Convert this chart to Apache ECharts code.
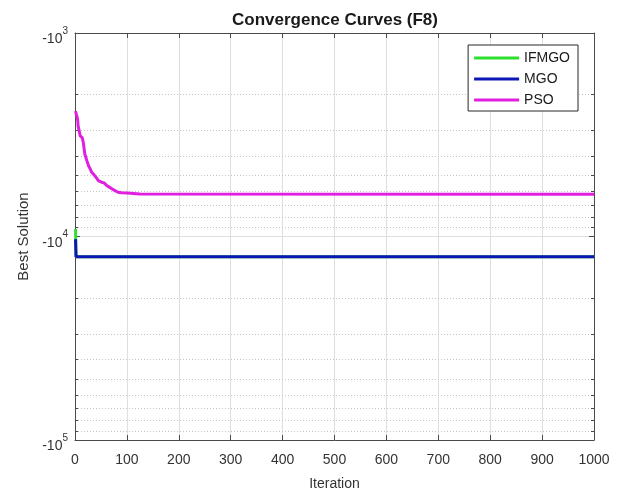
<!DOCTYPE html>
<html>
<head>
<meta charset="utf-8">
<script src="https://cdn.jsdelivr.net/npm/echarts@6/dist/echarts.min.js"></script>
<style>
  html, body { margin: 0; padding: 0; background: #ffffff; }
  #chart { width: 625px; height: 496px; }
</style>
</head>
<body>
<div id="chart"></div>
<script>
// Best-so-far fitness per iteration (negative values, drawn on a log magnitude axis)
const ifmgoIter = [1, 2, 1000];
const ifmgoBest = [-9200, -12569.5, -12569.5];

const mgoIter = [1, 2, 1000];
const mgoBest = [-10300, -12569.5, -12569.5];

const psoIter = [1, 3, 5, 6, 10, 14, 16, 19, 23, 26, 29, 32, 36, 39, 42, 45, 51, 56, 61, 66, 71, 77, 83, 90, 100, 125, 1000];
const psoBest = [-2420, -2420, -2650, -2860, -3200, -3270, -3450, -3940, -4250, -4490, -4640, -4830,
                 -4950, -5020, -5180, -5310, -5410, -5450, -5620, -5720, -5830, -5950, -6060, -6100,
                 -6120, -6190, -6200];

// Axis ticks
const xTicks = [0, 100, 200, 300, 400, 500, 600, 700, 800, 900, 1000];
const yDecades = [1e3, 1e4, 1e5];
const yMinor = [2e3, 3e3, 4e3, 5e3, 6e3, 7e3, 8e3, 9e3,
                2e4, 3e4, 4e4, 5e4, 6e4, 7e4, 8e4, 9e4];

const seriesNames = ['IFMGO', 'MGO', 'PSO'];
const seriesColors = ['#2ee02e', '#0c17b5', '#e01fe0'];

const toPoints = (xs, ys) => xs.map((x, i) => [x, Math.abs(ys[i])]);

const axisColor = '#4a4a4a';
const labelColor = '#333333';
const fontFam = '"Liberation Sans", Arial, sans-serif';

const chart = echarts.init(document.getElementById('chart'), null, { renderer: 'canvas' });

const decadeLabel = v => {
  const e = Math.round(Math.log10(v));
  return '{a|-10}{b|' + e + '}';
};

const lineSeries = (name, pts, color, z) => ({
  name: name,
  type: 'line',
  data: pts,
  showSymbol: false,
  symbol: 'none',
  lineStyle: { width: 3, color: color },
  itemStyle: { color: color },
  z: z,
  animation: false
});

const option = {
  backgroundColor: '#ffffff',
  animation: false,
  graphic: [{
    type: 'text',
    x: 335,
    y: 20,
    style: {
      text: 'Convergence Curves (F8)',
      font: 'bold 17px ' + fontFam,
      fill: '#1a1a1a',
      textAlign: 'center',
      textVerticalAlign: 'middle'
    }
  }],
  grid: { left: 75, right: 31, top: 33, bottom: 53, containLabel: false },
  legend: {
    data: seriesNames,
    orient: 'vertical',
    right: 47,
    top: 45,
    icon: 'rect',
    itemWidth: 45,
    itemHeight: 3,
    itemGap: 7,
    padding: [6, 8, 4, 6],
    backgroundColor: '#ffffff',
    borderColor: '#262626',
    borderWidth: 1,
    borderRadius: 0,
    textStyle: { fontFamily: fontFam, fontSize: 14, color: '#1a1a1a', lineHeight: 14 }
  },
  xAxis: [{
    type: 'value',
    min: xTicks[0],
    max: xTicks[xTicks.length - 1],
    interval: 100,
    position: 'bottom',
    name: 'Iteration',
    nameLocation: 'middle',
    nameGap: 37,
    nameTextStyle: { fontFamily: fontFam, fontSize: 14, color: labelColor },
    axisLine: { show: true, onZero: false, lineStyle: { color: axisColor, width: 1 } },
    axisTick: { show: true, inside: true, length: 5, lineStyle: { color: axisColor } },
    axisLabel: { margin: 13, fontFamily: fontFam, fontSize: 14, color: labelColor,
                 formatter: v => String(v) },
    splitLine: { show: true, lineStyle: { color: '#dedede', width: 1 } }
  }, {
    type: 'value',
    min: xTicks[0],
    max: xTicks[xTicks.length - 1],
    interval: 100,
    position: 'top',
    axisLine: { show: true, onZero: false, lineStyle: { color: axisColor, width: 1 } },
    axisTick: { show: true, inside: true, length: 5, lineStyle: { color: axisColor } },
    axisLabel: { show: false },
    splitLine: { show: false }
  }],
  yAxis: [{
    type: 'log',
    logBase: 10,
    min: yDecades[0],
    max: yDecades[yDecades.length - 1],
    inverse: true,
    position: 'left',
    name: 'Best Solution',
    nameLocation: 'middle',
    nameGap: 43,
    nameRotate: 90,
    nameTextStyle: { fontFamily: fontFam, fontSize: 15, color: labelColor },
    axisLine: { show: true, onZero: false, lineStyle: { color: axisColor, width: 1 } },
    axisTick: { show: true, inside: true, length: 5, lineStyle: { color: axisColor } },
    axisLabel: {
      margin: 7,
      formatter: decadeLabel,
      rich: {
        a: { fontFamily: fontFam, fontSize: 14, color: labelColor, padding: [13, 0, 0, 0] },
        b: { fontFamily: fontFam, fontSize: 10, color: labelColor, padding: [0, 0, 4, 0] }
      }
    },
    splitLine: { show: true, lineStyle: { color: '#dedede', width: 1 } }
  }, {
    type: 'log',
    logBase: 10,
    min: yDecades[0],
    max: yDecades[yDecades.length - 1],
    inverse: true,
    position: 'right',
    axisLine: { show: true, onZero: false, lineStyle: { color: axisColor, width: 1 } },
    axisTick: { show: true, inside: true, length: 5, lineStyle: { color: axisColor } },
    axisLabel: { show: false },
    splitLine: { show: false }
  }],
  series: [
    {
      // dotted minor grid lines and minor ticks at 2..9 x 10^k
      type: 'custom',
      silent: true,
      z: 1,
      data: yMinor.map(v => [0, v]),
      renderItem: function (params, api) {
        const cs = params.coordSys;
        const y = Math.round(api.coord([0, api.value(1)])[1]) + 0.5;
        const x0 = cs.x, x1 = cs.x + cs.width;
        return {
          type: 'group',
          children: [
            { type: 'line', shape: { x1: x0, y1: y, x2: x1, y2: y },
              style: { stroke: '#c4c4c4', lineWidth: 1, lineDash: [1, 2] } },
            { type: 'line', shape: { x1: x0, y1: y, x2: x0 + 3, y2: y },
              style: { stroke: axisColor, lineWidth: 1 } },
            { type: 'line', shape: { x1: x1 - 3, y1: y, x2: x1, y2: y },
              style: { stroke: axisColor, lineWidth: 1 } }
          ]
        };
      }
    },
    lineSeries(seriesNames[0], toPoints(ifmgoIter, ifmgoBest), seriesColors[0], 3),
    lineSeries(seriesNames[1], toPoints(mgoIter, mgoBest), seriesColors[1], 4),
    lineSeries(seriesNames[2], toPoints(psoIter, psoBest), seriesColors[2], 5)
  ]
};

chart.setOption(option);
</script>
</body>
</html>
